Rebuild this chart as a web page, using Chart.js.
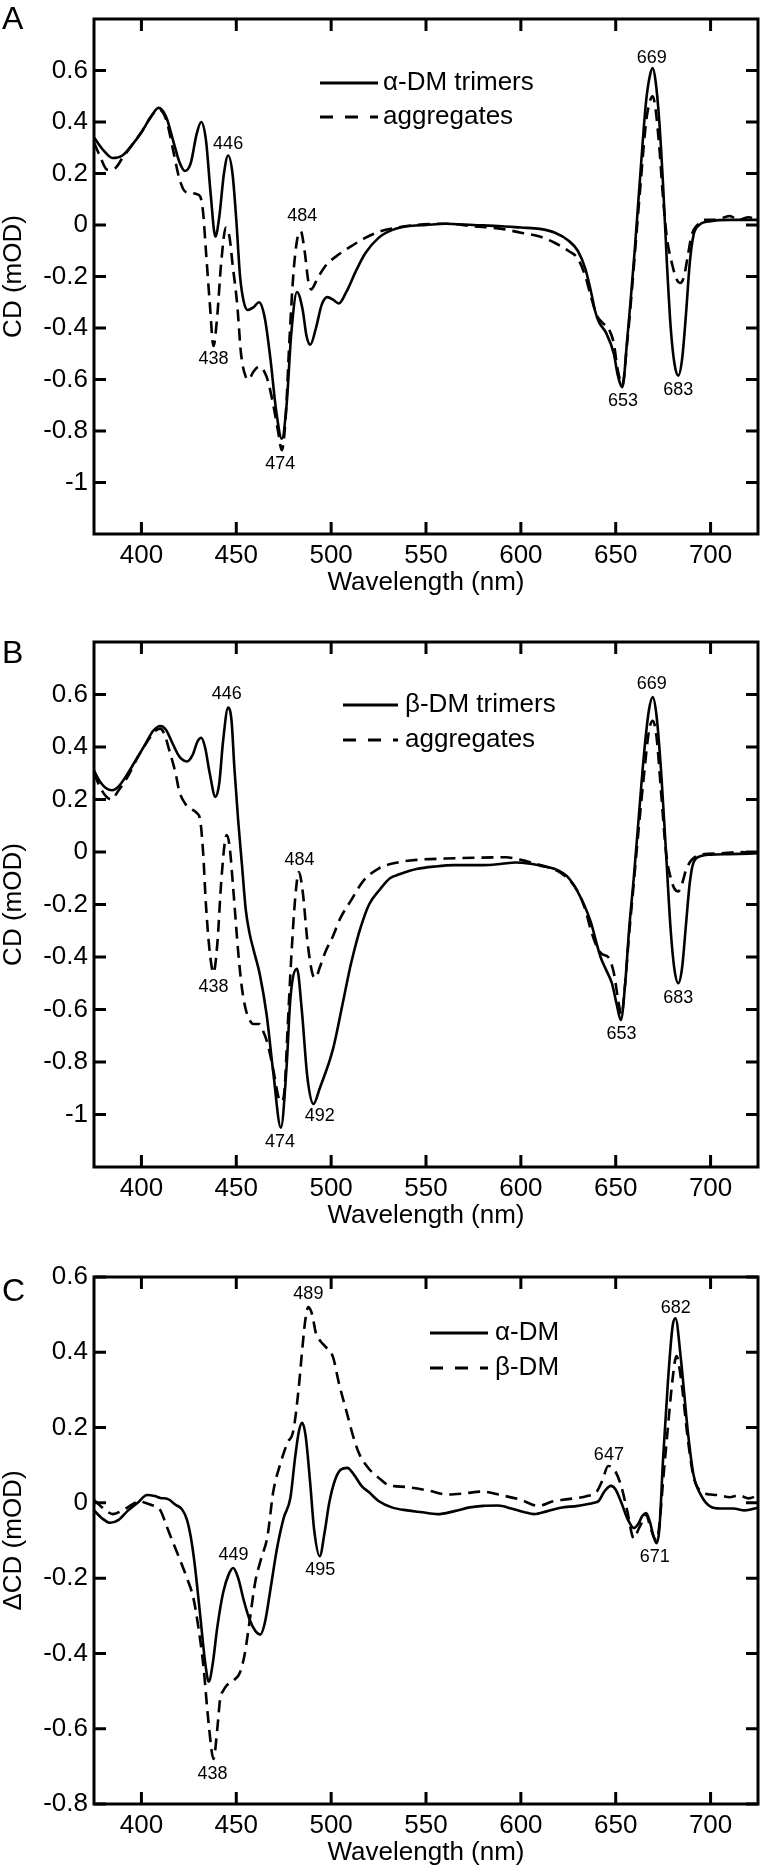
<!DOCTYPE html>
<html>
<head>
<meta charset="utf-8">
<script src="https://cdn.jsdelivr.net/npm/chart.js@4.4.1/dist/chart.umd.min.js"></script>
<style>
  body { margin: 0; background: #fff; }
  #page { position: relative; width: 760px; height: 1869px; overflow: hidden; background: #fff; }
  #page canvas { position: absolute; left: 0; }
</style>
</head>
<body>
<div id="page">
  <canvas id="chart-a" width="760" height="600" style="top:0px"></canvas>
  <canvas id="chart-b" width="760" height="629" style="top:600px"></canvas>
  <canvas id="chart-c" width="760" height="640" style="top:1229px"></canvas>
</div>
<script>
// ---- data (wavelength nm, CD mOD) ----
const xTicks = [400, 450, 500, 550, 600, 650, 700];
const yTicksAB = [-1, -0.8, -0.6, -0.4, -0.2, 0, 0.2, 0.4, 0.6];
const yTicksC = [-0.8, -0.6, -0.4, -0.2, 0, 0.2, 0.4, 0.6];

// Panel A
const aTrimers = [
  [375, 0.34], [380, 0.29], [385, 0.26], [390, 0.27], [395, 0.31], [400, 0.36], [405, 0.42],
  [409, 0.455], [413, 0.42], [417, 0.32], [420, 0.245], [423, 0.21], [426, 0.24], [429, 0.35],
  [431.5, 0.40], [434, 0.33], [436.5, 0.12], [439, -0.045], [441, 0.03], [443.5, 0.2],
  [445.7, 0.27], [448, 0.2], [450, 0.02], [452, -0.2], [454, -0.3], [456, -0.33], [459, -0.32],
  [462, -0.30], [465, -0.36], [468, -0.52], [471, -0.72], [474, -0.83], [476.5, -0.7],
  [479, -0.42], [482, -0.26], [485, -0.33], [487, -0.43], [489, -0.465], [492, -0.4],
  [495, -0.31], [498, -0.28], [501, -0.29], [504, -0.305], [508, -0.26], [513, -0.18],
  [518, -0.11], [525, -0.05], [532, -0.02], [540, -0.005], [550, 0.0], [560, 0.005],
  [575, 0.0], [590, -0.005], [600, -0.01], [610, -0.015], [618, -0.03], [625, -0.06],
  [630, -0.1], [634, -0.17], [637, -0.26], [639, -0.33], [641, -0.375], [645, -0.42],
  [649, -0.5], [651, -0.58], [653.5, -0.63], [656, -0.45], [658, -0.28], [660, -0.1],
  [663, 0.2], [666, 0.48], [668, 0.58], [669.5, 0.61], [671, 0.56], [673, 0.4], [675, 0.15],
  [677, -0.15], [679, -0.4], [681, -0.54], [683, -0.585], [685, -0.52], [687, -0.35],
  [689, -0.15], [691, -0.04], [694, 0.0], [700, 0.015], [710, 0.02], [725, 0.02]
];
const aAggregates = [
  [375, 0.32], [378, 0.27], [382, 0.215], [386, 0.22], [390, 0.26], [395, 0.31], [400, 0.36],
  [405, 0.42], [409, 0.45], [413, 0.41], [417, 0.28], [420, 0.18], [423, 0.13], [426, 0.125],
  [429, 0.12], [431, 0.11], [432.5, 0.05], [434, -0.1], [436, -0.3], [438, -0.47], [440, -0.35],
  [442, -0.15], [444.5, -0.01], [446.5, -0.05], [448, -0.15], [450.5, -0.31], [452.5, -0.5],
  [455, -0.59], [456.5, -0.6], [459, -0.57], [462, -0.55], [466, -0.59], [469, -0.68],
  [472, -0.8], [474, -0.875], [476, -0.75], [478, -0.45], [480, -0.2], [482, -0.06],
  [484, -0.025], [486, -0.1], [488, -0.22], [489.5, -0.25], [492, -0.22], [495, -0.18],
  [498, -0.15], [503, -0.12], [510, -0.085], [518, -0.05], [525, -0.027], [535, -0.01],
  [545, 0.0], [560, 0.005], [575, -0.005], [590, -0.015], [600, -0.03], [610, -0.045],
  [618, -0.07], [625, -0.1], [630, -0.13], [634, -0.2], [637, -0.28], [640, -0.35],
  [643, -0.38], [646, -0.4], [649, -0.46], [651, -0.56], [653.5, -0.62], [656, -0.46],
  [658, -0.3], [660, -0.12], [663, 0.15], [666, 0.4], [668, 0.48], [669.5, 0.5], [671, 0.45],
  [673, 0.3], [675, 0.1], [677, -0.05], [680, -0.16], [682, -0.21], [684, -0.225],
  [686, -0.2], [688, -0.12], [690, -0.04], [693, 0.0], [697, 0.02], [703, 0.02],
  [710, 0.035], [715, 0.02], [720, 0.03], [725, 0.02]
];
const aPeaks = [
  ["446", 445.7, 0.316], ["484", 484.8, 0.034], ["438", 438, -0.52], ["474", 473.2, -0.93],
  ["669", 669, 0.65], ["653", 653.8, -0.685], ["683", 683, -0.64]
];

// Panel B
const bTrimers = [
  [375, 0.31], [378, 0.27], [381, 0.245], [384.5, 0.235], [388, 0.25], [392, 0.29], [397, 0.35],
  [402, 0.41], [406, 0.46], [410, 0.48], [413, 0.465], [416, 0.42], [419, 0.375], [421, 0.355],
  [424, 0.345], [427, 0.37], [429.5, 0.42], [431.5, 0.435], [433.5, 0.4], [436, 0.3],
  [439, 0.21], [441, 0.26], [443, 0.42], [445.7, 0.55], [447.5, 0.5], [449, 0.32],
  [451, 0.12], [453, -0.05], [455, -0.22], [457, -0.31], [459, -0.37], [462.5, -0.47],
  [466, -0.62], [469.5, -0.84], [473.5, -1.05], [476.5, -0.82], [478.5, -0.56], [482, -0.445],
  [484.5, -0.6], [487.5, -0.86], [490.7, -0.96], [494, -0.9], [501, -0.75], [506, -0.58],
  [510, -0.44], [512, -0.38], [515, -0.3], [520, -0.2], [526, -0.14], [531, -0.1],
  [536, -0.085], [545, -0.065], [555, -0.055], [565, -0.05], [580, -0.05], [590, -0.045],
  [597, -0.04], [605, -0.045], [612, -0.055], [618, -0.065], [624, -0.09], [628, -0.127],
  [632, -0.18], [635, -0.23], [637, -0.27], [640, -0.35], [642, -0.4], [645, -0.45],
  [648, -0.5], [650.5, -0.58], [652.7, -0.64], [655, -0.5], [657, -0.3], [659.5, -0.1],
  [662, 0.12], [665, 0.38], [667.5, 0.54], [669.5, 0.59], [671.5, 0.52], [674, 0.3],
  [676.5, 0.0], [679, -0.3], [681, -0.45], [683, -0.5], [685, -0.44], [687, -0.28],
  [689, -0.12], [691, -0.04], [695, -0.015], [700, -0.01], [710, -0.008], [725, -0.005]
];
const bAggregates = [
  [375, 0.3], [378, 0.25], [381, 0.215], [384, 0.2], [388, 0.235], [393, 0.29], [398, 0.36],
  [403, 0.42], [407, 0.46], [410, 0.47], [412, 0.45], [415, 0.38], [418, 0.3], [420, 0.23],
  [423, 0.185], [426, 0.165], [429, 0.15], [431, 0.12], [432.5, 0.0], [434, -0.2], [436, -0.38],
  [438, -0.46], [440, -0.35], [442, -0.12], [444, 0.04], [445, 0.065], [446.5, 0.02],
  [448.5, -0.15], [451, -0.38], [453, -0.52], [455, -0.6], [457, -0.64], [459, -0.655],
  [462, -0.655], [464, -0.68], [466.5, -0.73], [469.5, -0.83], [472.5, -0.94], [474, -0.95],
  [475.5, -0.9], [477, -0.68], [479, -0.4], [481, -0.18], [483, -0.076], [485, -0.15],
  [487.5, -0.34], [490, -0.46], [491.7, -0.48], [494, -0.44], [497, -0.38], [501, -0.32],
  [505, -0.25], [510, -0.19], [517, -0.11], [525, -0.063], [535, -0.04], [545, -0.03],
  [560, -0.025], [575, -0.022], [592, -0.02], [600, -0.03], [608, -0.045], [614, -0.057],
  [620, -0.075], [626, -0.11], [630, -0.15], [634, -0.22], [637, -0.3], [640, -0.36],
  [643, -0.39], [646, -0.4], [649, -0.46], [651, -0.55], [653, -0.62], [655, -0.5],
  [657, -0.32], [659.5, -0.12], [662, 0.08], [665, 0.3], [667.5, 0.46], [669.5, 0.5],
  [671.5, 0.44], [674, 0.22], [676.5, 0.0], [679, -0.1], [681, -0.14], [683, -0.15],
  [685, -0.12], [687, -0.07], [690, -0.03], [695, -0.01], [705, -0.005], [715, 0.0], [725, -0.005]
];
const bPeaks = [
  ["446", 445, 0.6], ["484", 483.3, -0.03], ["438", 438, -0.513], ["474", 473, -1.106],
  ["492", 494, -1.004], ["669", 669, 0.64], ["653", 653, -0.695], ["683", 683, -0.555]
];

// Panel C (difference spectra)
const cAlpha = [
  [375, -0.02], [379, -0.04], [383.5, -0.053], [388, -0.045], [393, -0.02], [398, 0.0],
  [403, 0.021], [407, 0.018], [410, 0.013], [414, 0.01], [418, -0.005], [421.5, -0.018],
  [424, -0.045], [426, -0.09], [428, -0.16], [431, -0.30], [433.5, -0.42], [435.5, -0.475],
  [437.5, -0.43], [440, -0.33], [443, -0.24], [446, -0.19], [448.4, -0.173], [451, -0.2],
  [454, -0.26], [457, -0.31], [460, -0.34], [462.6, -0.35], [465, -0.32], [468, -0.23],
  [471.5, -0.12], [475, -0.04], [478.5, 0.013], [481, 0.12], [483, 0.19], [484.7, 0.213],
  [486.5, 0.18], [489, 0.05], [491, -0.07], [494, -0.142], [496.5, -0.08], [499, 0.0],
  [502, 0.06], [505, 0.088], [508.5, 0.093], [512, 0.075], [516, 0.045], [520, 0.028],
  [525, 0.005], [532, -0.012], [540, -0.02], [548, -0.025], [556, -0.03], [565, -0.022],
  [573, -0.012], [580, -0.008], [588, -0.007], [595, -0.015], [602, -0.025], [607, -0.03],
  [614, -0.022], [621, -0.013], [630, -0.008], [638.5, 0.0], [641, 0.005], [644, 0.03],
  [647.5, 0.045], [650, 0.035], [653, 0.0], [656, -0.04], [659.6, -0.067], [662, -0.055],
  [664, -0.035], [666, -0.027], [668, -0.05], [670, -0.09], [671.5, -0.107], [673, -0.07],
  [675, 0.12], [677.5, 0.32], [680, 0.47], [681.5, 0.49], [684.4, 0.38], [688, 0.19],
  [691, 0.075], [695, 0.02], [700, -0.01], [705, -0.015], [712, -0.015], [718, -0.02], [725, -0.013]
];
const cBeta = [
  [375, 0.008], [380, -0.015], [385, -0.03], [390, -0.02], [395, -0.005], [399, 0.005],
  [402, 0.0], [405, -0.005], [410, -0.02], [413, -0.058], [417, -0.11], [420, -0.147],
  [424, -0.2], [427.4, -0.253], [430, -0.33], [432.6, -0.43], [435.5, -0.59], [438, -0.68],
  [440, -0.6], [441.5, -0.52], [443, -0.5], [445, -0.485], [449, -0.47], [452, -0.45],
  [454.5, -0.4], [456.5, -0.333], [460, -0.21], [463, -0.15], [466.4, -0.09], [469.5, 0.03],
  [473, 0.1], [477, 0.16], [480, 0.19], [482.8, 0.3], [485, 0.42], [486.5, 0.49], [488, 0.52],
  [490, 0.5], [492, 0.45], [494.3, 0.43], [497, 0.415], [501, 0.387], [504, 0.32],
  [508.5, 0.235], [512, 0.17], [515, 0.128], [520, 0.09], [525, 0.067], [530, 0.048],
  [540, 0.042], [552, 0.032], [561, 0.022], [570, 0.025], [579, 0.03], [590, 0.02],
  [600, 0.008], [609, -0.008], [617, 0.004], [625, 0.01], [635, 0.018], [640, 0.03],
  [643, 0.06], [646, 0.098], [649, 0.09], [652.7, 0.048], [656, -0.02], [659.6, -0.095],
  [662, -0.07], [664, -0.05], [666, -0.03], [668, -0.06], [670, -0.09], [671.5, -0.1],
  [673, -0.06], [675, 0.06], [677.5, 0.2], [680, 0.33], [682, 0.39], [684.4, 0.33],
  [688, 0.17], [691, 0.07], [695, 0.03], [700, 0.022], [705, 0.02], [710, 0.015],
  [715, 0.02], [720, 0.012], [725, 0.02]
];
const cPeaks = [
  ["489", 488, 0.555], ["449", 448.5, -0.139], ["495", 494.3, -0.178], ["438", 437.5, -0.72],
  ["647", 646.4, 0.128], ["671", 670.6, -0.144], ["682", 681.7, 0.517]
];

// ---- helpers ----
const FONT = '"Liberation Sans", Arial, Helvetica, sans-serif';
Chart.defaults.font.family = FONT;
Chart.defaults.color = "#000";

function toPoints(pairs) {
  return pairs.map(function (p) { return { x: p[0], y: p[1] }; });
}

function fmt(v) {
  return String(Math.round(v * 10) / 10);
}

// frame, inward ticks, peak labels, legend and panel letter
const panelDecor = {
  id: "panelDecor",
  afterDraw(chart, args, o) {
    const ctx = chart.ctx;
    const a = chart.chartArea;
    const xs = chart.scales.x;
    const ys = chart.scales.y;
    ctx.save();
    ctx.strokeStyle = "#000";
    ctx.fillStyle = "#000";
    ctx.lineWidth = 3;
    ctx.setLineDash([]);
    ctx.strokeRect(a.left, a.top, a.right - a.left, a.bottom - a.top);

    ctx.beginPath();
    xTicks.forEach(function (v) {
      const px = xs.getPixelForValue(v);
      ctx.moveTo(px, a.bottom); ctx.lineTo(px, a.bottom - 12);
      ctx.moveTo(px, a.top); ctx.lineTo(px, a.top + 12);
    });
    o.yTicks.forEach(function (v) {
      const py = ys.getPixelForValue(v);
      ctx.moveTo(a.left, py); ctx.lineTo(a.left + 12, py);
      ctx.moveTo(a.right, py); ctx.lineTo(a.right - 12, py);
    });
    ctx.stroke();

    // peak labels
    ctx.font = "18px " + FONT;
    ctx.textAlign = "center";
    ctx.textBaseline = "middle";
    o.peaks.forEach(function (p) {
      ctx.fillText(p[0], xs.getPixelForValue(p[1]), ys.getPixelForValue(p[2]));
    });

    // legend
    const lg = o.legend;
    ctx.font = "26px " + FONT;
    ctx.textAlign = "left";
    chart.data.datasets.forEach(function (ds, i) {
      const y = lg.y + i * lg.dy;
      ctx.lineWidth = 3;
      ctx.setLineDash(ds.borderDash.length ? [13, 12] : []);
      ctx.beginPath();
      ctx.moveTo(lg.x1, y);
      ctx.lineTo(lg.x2, y);
      ctx.stroke();
      ctx.fillText(ds.label, lg.textX, y);
    });
    ctx.setLineDash([]);

    // panel letter
    ctx.font = "32px " + FONT;
    ctx.textBaseline = "alphabetic";
    ctx.fillText(o.letter, 2, o.letterY);
    ctx.restore();
  },
};

function makeChart(id, cfg) {
  const el = document.getElementById(id);
  return new Chart(el, {
    type: "line",
    data: {
      datasets: [
        {
          label: cfg.names[0],
          data: toPoints(cfg.solid),
          borderColor: "#000",
          borderWidth: 2.6,
          borderDash: [],
          pointRadius: 0,
          fill: false,
          cubicInterpolationMode: "monotone",
        },
        {
          label: cfg.names[1],
          data: toPoints(cfg.dashed),
          borderColor: "#000",
          borderWidth: 2.6,
          borderDash: [12, 7],
          pointRadius: 0,
          fill: false,
          cubicInterpolationMode: "monotone",
        },
      ],
    },
    options: {
      responsive: false,
      animation: false,
      events: [],
      layout: { padding: cfg.padding },
      plugins: {
        legend: { display: false },
        tooltip: { enabled: false },
        panelDecor: {
          yTicks: cfg.yTicks,
          peaks: cfg.peaks,
          legend: cfg.legend,
          letter: cfg.letter,
          letterY: cfg.letterY,
        },
      },
      scales: {
        x: {
          type: "linear",
          min: 375,
          max: 725,
          afterBuildTicks: function (s) { s.ticks = xTicks.map(function (v) { return { value: v }; }); },
          afterFit: function (s) { s.height = 62; },
          grid: { display: false, drawTicks: false },
          border: { display: false },
          ticks: {
            autoSkip: false,
            maxRotation: 0,
            padding: 9,
            font: { size: 26, lineHeight: 1 },
            callback: function (v) { return String(v); },
          },
          title: {
            display: true,
            text: "Wavelength (nm)",
            font: { size: 26, lineHeight: 1 },
            padding: 0,
          },
        },
        y: {
          type: "linear",
          min: cfg.yMin,
          max: cfg.yMax,
          afterBuildTicks: function (s) { s.ticks = cfg.yTicks.map(function (v) { return { value: v }; }); },
          afterFit: function (s) { s.width = 94; },
          grid: { display: false, drawTicks: false },
          border: { display: false },
          ticks: {
            autoSkip: false,
            padding: 6,
            font: { size: 26, lineHeight: 1 },
            callback: fmt,
          },
          title: {
            display: true,
            text: cfg.yTitle,
            font: { size: 26, lineHeight: 1 },
            padding: { top: 1, bottom: 0 },
          },
        },
      },
    },
    plugins: [panelDecor],
  });
}

makeChart("chart-a", {
  names: ["\u03b1-DM trimers", "aggregates"],
  solid: aTrimers,
  dashed: aAggregates,
  peaks: aPeaks,
  yTicks: yTicksAB,
  yMin: -1.2,
  yMax: 0.8,
  yTitle: "CD (mOD)",
  padding: { top: 10, right: 2, bottom: 4, left: 0 },
  legend: { x1: 320, x2: 378, textX: 383, y: 83, dy: 34 },
  letter: "A",
  letterY: 29,
});

makeChart("chart-b", {
  names: ["\u03b2-DM trimers", "aggregates"],
  solid: bTrimers,
  dashed: bAggregates,
  peaks: bPeaks,
  yTicks: yTicksAB,
  yMin: -1.2,
  yMax: 0.8,
  yTitle: "CD (mOD)",
  padding: { top: 42, right: 2, bottom: 0, left: 0 },
  legend: { x1: 343, x2: 398, textX: 405, y: 105, dy: 35 },
  letter: "B",
  letterY: 63,
});

makeChart("chart-c", {
  names: ["\u03b1-DM", "\u03b2-DM"],
  solid: cAlpha,
  dashed: cBeta,
  peaks: cPeaks,
  yTicks: yTicksC,
  yMin: -0.8,
  yMax: 0.6,
  yTitle: "\u0394CD (mOD)",
  padding: { top: 48, right: 2, bottom: 3, left: 0 },
  legend: { x1: 430, x2: 488, textX: 495, y: 104, dy: 35 },
  letter: "C",
  letterY: 72,
});
</script>
</body>
</html>
